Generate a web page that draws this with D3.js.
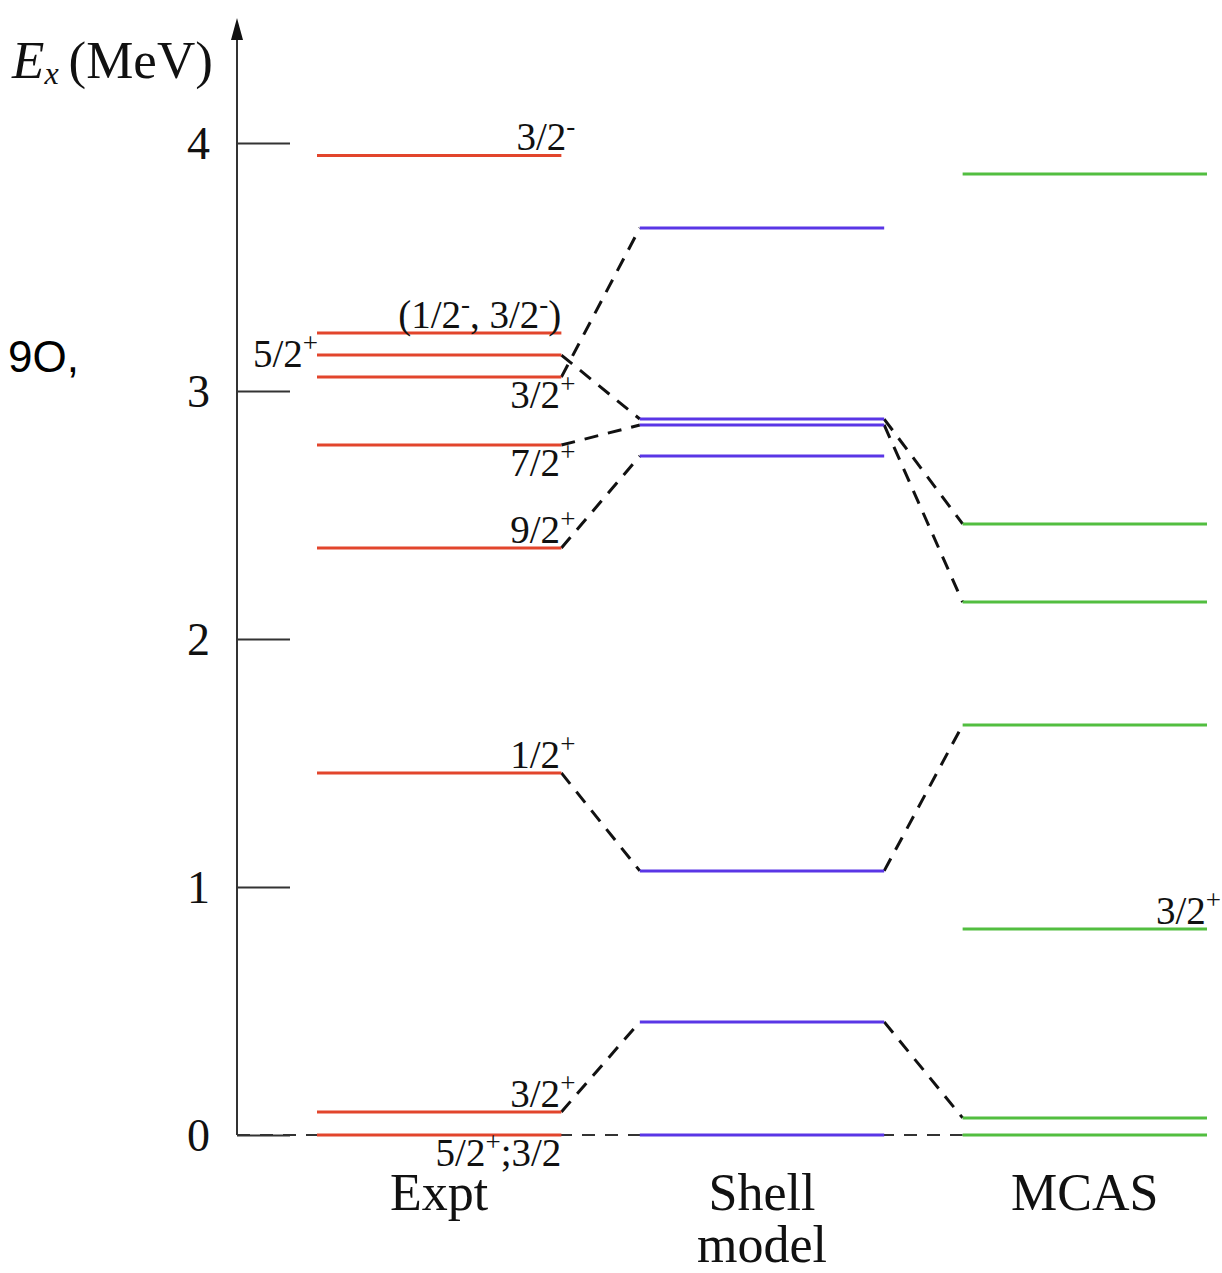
<!DOCTYPE html>
<html>
<head>
<meta charset="utf-8">
<script src="https://cdn.jsdelivr.net/npm/d3@7"></script>
<style>
  body { margin: 0; background: #fff; }
  svg text { font-family: 'Liberation Serif', 'Times New Roman', serif; fill: #111; }
</style>
</head>
<body>
<svg id="chart" width="1222" height="1273"></svg>
<script>
const columns = ['Expt', 'Shell', 'MCAS']
const columnTitles = [['Expt'], ['Shell', 'model'], ['MCAS']]
const yTicks = [0, 1, 2, 3, 4]

// level energies (MeV)
const exptLevels = [3.95, 3.234, 3.145, 3.056, 2.782, 2.367, 1.46, 0.093, 0]
const shellLevels = [3.657, 2.887, 2.863, 2.738, 1.065, 0.456, 0]
const mcasLevels = [3.875, 2.464, 2.149, 1.653, 0.831, 0.069, 0]

// dashed correspondences [from, to]
const exptShellLinks = [[3.056, 3.657], [3.145, 2.887], [2.782, 2.863], [2.367, 2.738], [1.46, 1.065], [0.093, 0.456]]
const shellMcasLinks = [[2.887, 2.464], [2.863, 2.149], [1.065, 1.653], [0.456, 0.069]]

// spin-parity labels, parts are [text, superscript]
const levelLabels = [
  { col: 'Expt', e: 3.95, parts: [['3/2', '-']], pos: 'above' },
  { col: 'Expt', e: 3.234, parts: [['(1/2', '-'], [', 3/2', '-'], [')', '']], pos: 'above' },
  { col: 'Expt', e: 3.145, parts: [['5/2', '+']], pos: 'left' },
  { col: 'Expt', e: 3.056, parts: [['3/2', '+']], pos: 'below' },
  { col: 'Expt', e: 2.782, parts: [['7/2', '+']], pos: 'below' },
  { col: 'Expt', e: 2.367, parts: [['9/2', '+']], pos: 'above' },
  { col: 'Expt', e: 1.46, parts: [['1/2', '+']], pos: 'above' },
  { col: 'Expt', e: 0.093, parts: [['3/2', '+']], pos: 'above' },
  { col: 'Expt', e: 0, parts: [['5/2', '+'], [';3/2', '']], pos: 'below' },
  { col: 'MCAS', e: 0.831, parts: [['3/2', '+']], pos: 'above' }
]

const colors = { Expt: '#e2452c', Shell: '#5a36e6', MCAS: '#52be40' }
const serif = "'Liberation Serif', 'Times New Roman', serif"

const svg = d3.select('#chart')

const y = d3.scaleLinear().domain([0, 4]).range([1135, 143])
const x = d3.scaleBand().domain(columns).range([317, 1207]).paddingInner(0.243).paddingOuter(0)
const axisX = 237

// side note text
svg.append('text')
  .attr('x', 8).attr('y', 372)
  .style('font-family', "'Liberation Sans', Arial, sans-serif")
  .style('font-size', '44px')
  .style('fill', '#000')
  .text('9O,')

// ground-state dashed baseline
svg.append('line')
  .attr('x1', axisX).attr('x2', x('MCAS'))
  .attr('y1', y(0)).attr('y2', y(0))
  .attr('stroke', '#333').attr('stroke-width', 2)
  .attr('stroke-dasharray', '13,10')

// y axis
const axis = d3.axisLeft(y)
  .tickValues(yTicks)
  .tickFormat(d3.format('d'))
  .tickSizeInner(-53)
  .tickSizeOuter(0)
  .tickPadding(27)

const gAxis = svg.append('g')
  .attr('transform', `translate(${axisX},0)`)
  .call(axis)
  .attr('font-family', serif)
  .attr('font-size', 46)
gAxis.select('.domain').remove()
gAxis.selectAll('.tick line').attr('stroke', '#333').attr('stroke-width', 2)
gAxis.selectAll('.tick text')
  .style('font-family', serif)
  .style('font-size', '46px')
  .attr('fill', '#111')
  .attr('dy', '0.34em')

svg.append('line')
  .attr('x1', axisX).attr('x2', axisX)
  .attr('y1', y(0)).attr('y2', 32)
  .attr('stroke', '#333').attr('stroke-width', 2)
svg.append('path')
  .attr('d', `M${axisX},18 L${axisX - 6},40 L${axisX + 6},40 Z`)
  .attr('fill', '#111')

// axis title
const title = svg.append('text').attr('x', 12).attr('y', 78).style('font-size', '53px')
title.append('tspan').style('font-style', 'italic').text('E')
title.append('tspan').style('font-style', 'italic').style('font-size', '32px').attr('dy', 6).text('x')
title.append('tspan').attr('dy', -6).attr('dx', 10).text('(MeV)')

// dashed links
const linkData = exptShellLinks.map(([a, b]) => ({ from: 'Expt', to: 'Shell', a, b }))
  .concat(shellMcasLinks.map(([a, b]) => ({ from: 'Shell', to: 'MCAS', a, b })))

svg.append('g').selectAll('line')
  .data(linkData)
  .join('line')
  .attr('x1', d => x(d.from) + x.bandwidth())
  .attr('y1', d => y(d.a))
  .attr('x2', d => x(d.to))
  .attr('y2', d => y(d.b))
  .attr('stroke', '#111')
  .attr('stroke-width', 3)
  .attr('stroke-dasharray', '14,10')

// levels
const levelData = [
  ...exptLevels.map(e => ({ col: 'Expt', e })),
  ...shellLevels.map(e => ({ col: 'Shell', e })),
  ...mcasLevels.map(e => ({ col: 'MCAS', e }))
]

svg.append('g').selectAll('line')
  .data(levelData)
  .join('line')
  .attr('x1', d => x(d.col))
  .attr('x2', d => x(d.col) + x.bandwidth())
  .attr('y1', d => y(d.e))
  .attr('y2', d => y(d.e))
  .attr('stroke', d => colors[d.col])
  .attr('stroke-width', 3)

// level labels
const supShift = 15
const labelG = svg.append('g').style('font-size', '39px')
levelLabels.forEach(l => {
  const endsWithSup = l.parts[l.parts.length - 1][1] !== ''
  let lx, ly
  if (l.pos === 'left') {
    lx = x(l.col) + 1
    ly = y(l.e) + 12
  } else {
    lx = x(l.col) + x.bandwidth() + (endsWithSup ? 14 : 0)
    ly = l.pos === 'above' ? y(l.e) - 5 : y(l.e) + 31
  }
  const t = labelG.append('text').attr('x', lx).attr('y', ly).attr('text-anchor', 'end')
  let raised = false
  l.parts.forEach(([main, sup]) => {
    t.append('tspan').attr('dy', raised ? supShift : 0).text(main)
    raised = false
    if (sup) {
      t.append('tspan').attr('dy', -supShift).style('font-size', '27px').text(sup)
      raised = true
    }
  })
})

// column titles
columnTitles.forEach((lines, i) => {
  const cx = x(columns[i]) + x.bandwidth() / 2
  const t = svg.append('text')
    .attr('x', cx).attr('y', 1210)
    .attr('text-anchor', 'middle')
    .style('font-size', '52px')
  lines.forEach((s, j) => {
    t.append('tspan').attr('x', cx).attr('dy', j === 0 ? 0 : 52).text(s)
  })
})
</script>
</body>
</html>
